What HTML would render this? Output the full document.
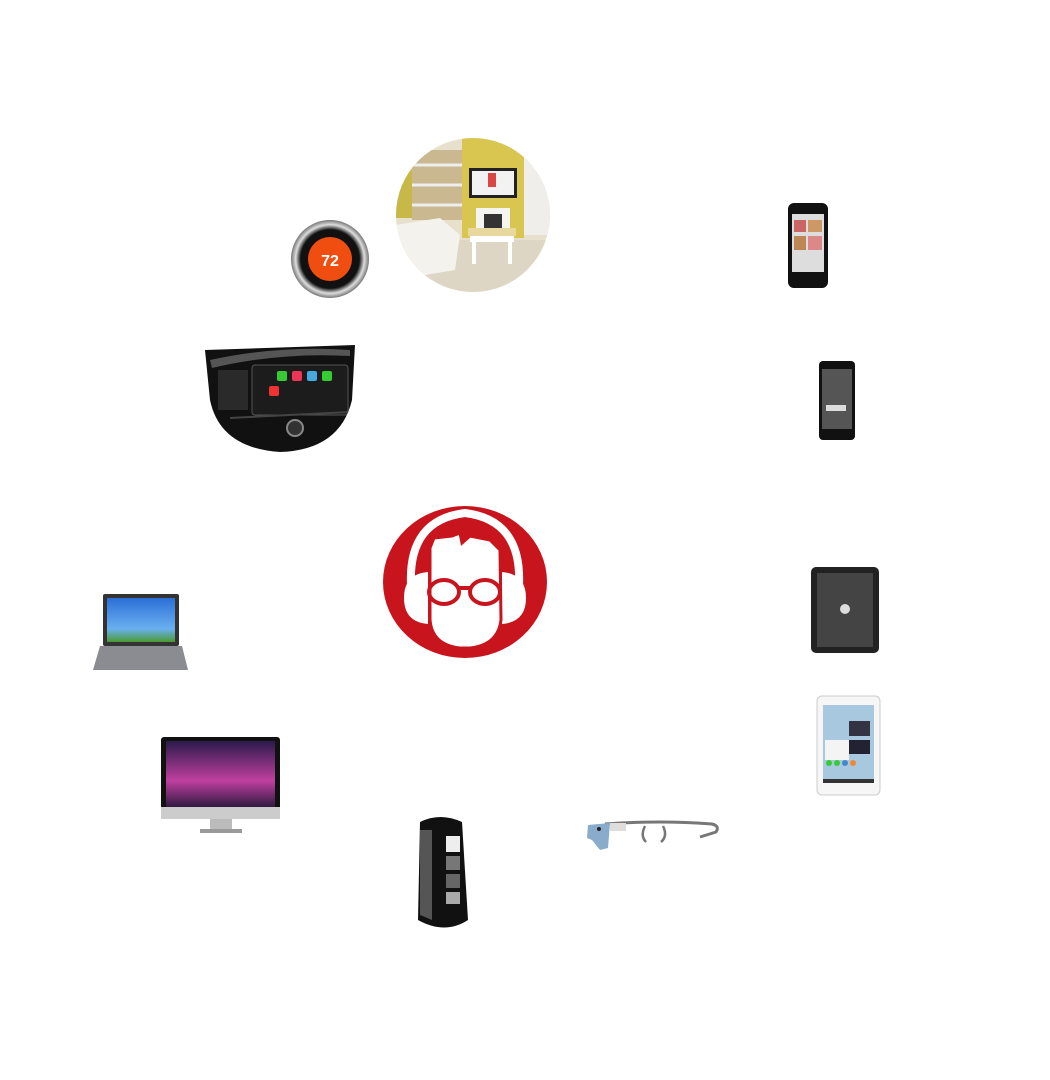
<!DOCTYPE html>
<html><head><meta charset="utf-8"><style>
html,body{margin:0;padding:0;background:#fff;}
svg{display:block;}
</style></head><body>
<svg width="1050" height="1080" viewBox="0 0 1050 1080" xmlns="http://www.w3.org/2000/svg">
<defs>
<clipPath id="room"><circle cx="473" cy="215" r="77"/></clipPath>
<clipPath id="car"><path d="M205 350 L355 345 L352 400 Q340 450 280 452 Q220 448 210 400 Z"/></clipPath>
<linearGradient id="mac" x1="0" y1="0" x2="0" y2="1"><stop offset="0" stop-color="#2a1a4a"/><stop offset="0.6" stop-color="#c040a0"/><stop offset="1" stop-color="#301a40"/></linearGradient>
<linearGradient id="xp" x1="0" y1="0" x2="0" y2="1"><stop offset="0" stop-color="#2b6fd6"/><stop offset="0.7" stop-color="#6ab0f0"/><stop offset="1" stop-color="#4a9a30"/></linearGradient>
<radialGradient id="ring"><stop offset="0.75" stop-color="#111"/><stop offset="0.88" stop-color="#ddd"/><stop offset="1" stop-color="#777"/></radialGradient>
</defs>

<g clip-path="url(#room)">
<rect x="395" y="138" width="156" height="156" fill="#e6e0cc"/>
<rect x="462" y="138" width="62" height="100" fill="#d8c650"/>
<rect x="395" y="138" width="20" height="80" fill="#c8b848"/>
<rect x="412" y="150" width="50" height="70" fill="#c9b890"/>
<line x1="412" y1="165" x2="462" y2="165" stroke="#eee" stroke-width="3"/>
<line x1="412" y1="185" x2="462" y2="185" stroke="#eee" stroke-width="3"/>
<line x1="412" y1="205" x2="462" y2="205" stroke="#eee" stroke-width="3"/>
<rect x="524" y="150" width="30" height="85" fill="#f0eeea"/>
<rect x="469" y="168" width="48" height="30" fill="#222"/>
<rect x="472" y="171" width="42" height="24" fill="#f2f2f2"/>
<rect x="488" y="173" width="8" height="14" fill="#d44"/>
<rect x="476" y="208" width="34" height="28" fill="#f4f4f0"/>
<rect x="484" y="214" width="18" height="16" fill="#333"/>
<rect x="395" y="240" width="156" height="54" fill="#ddd6c4"/>
<path d="M395 225 L440 218 L460 235 L455 270 L395 280 Z" fill="#f4f2ec"/>
<rect x="470" y="236" width="44" height="6" fill="#fff"/>
<rect x="472" y="242" width="4" height="22" fill="#fff"/><rect x="508" y="242" width="4" height="22" fill="#fff"/>
<rect x="468" y="228" width="48" height="8" fill="#e8d8a0"/>
</g>

<circle cx="330" cy="259" r="39" fill="url(#ring)"/>
<circle cx="330" cy="259" r="22" fill="#f04e10"/>
<text x="330" y="266" font-family="Liberation Sans, sans-serif" font-size="16" font-weight="bold" fill="#fff" text-anchor="middle">72</text>

<g clip-path="url(#car)">
<rect x="200" y="340" width="160" height="120" fill="#111"/>
<path d="M210 360 Q280 345 350 350 L350 356 Q280 352 212 368 Z" fill="#555"/>
<rect x="218" y="370" width="30" height="40" fill="#2a2a2a"/>
<rect x="252" y="365" width="96" height="50" rx="3" fill="#1c1c1c" stroke="#555"/>
<rect x="277" y="371" width="10" height="10" rx="2" fill="#3c3"/><rect x="292" y="371" width="10" height="10" rx="2" fill="#e35"/><rect x="307" y="371" width="10" height="10" rx="2" fill="#4ad"/><rect x="322" y="371" width="10" height="10" rx="2" fill="#3c3"/>
<rect x="269" y="386" width="10" height="10" rx="2" fill="#e33"/>
<line x1="230" y1="418" x2="350" y2="412" stroke="#444" stroke-width="2"/>
<circle cx="295" cy="428" r="8" fill="#333" stroke="#888" stroke-width="2"/>
</g>

<rect x="788" y="203" width="40" height="85" rx="6" fill="#111"/>
<rect x="792" y="214" width="32" height="58" fill="#ddd"/>
<rect x="794" y="220" width="12" height="12" fill="#c66"/><rect x="808" y="220" width="14" height="12" fill="#c96"/>
<rect x="794" y="236" width="12" height="14" fill="#b85"/><rect x="808" y="236" width="14" height="14" fill="#d88"/>

<rect x="819" y="361" width="36" height="79" rx="4" fill="#111"/>
<rect x="822" y="369" width="30" height="60" fill="#555"/>
<rect x="826" y="405" width="20" height="6" fill="#ddd"/>

<ellipse cx="465" cy="582" rx="82" ry="76" fill="#c8141c"/>
<path d="M411 585 Q408 520 465 513 Q522 520 519 585" fill="none" stroke="#fff" stroke-width="8"/>
<path d="M428 572 Q404 574 404 598 Q404 622 428 624 Z" fill="#fff"/>
<path d="M502 572 Q526 574 526 598 Q526 622 502 624 Z" fill="#fff"/>
<path d="M430 548 L434 538 L452 536 L460 533 L462 543 L470 536 L490 540 L500 550 L501 620 Q498 645 470 648 L460 648 Q432 645 430 620 Z" fill="#fff" stroke="#c8141c" stroke-width="3"/>
<ellipse cx="444" cy="592" rx="15" ry="12" fill="none" stroke="#c8141c" stroke-width="4"/>
<ellipse cx="485" cy="592" rx="15" ry="12" fill="none" stroke="#c8141c" stroke-width="4"/>
<line x1="459" y1="588" x2="470" y2="588" stroke="#c8141c" stroke-width="4"/>

<rect x="103" y="594" width="76" height="52" rx="2" fill="#333"/>
<rect x="107" y="598" width="68" height="44" fill="url(#xp)"/>
<path d="M100 646 L182 646 L188 670 L93 670 Z" fill="#8a8c92"/>

<rect x="161" y="737" width="119" height="80" rx="3" fill="#111"/>
<rect x="166" y="741" width="109" height="66" fill="url(#mac)"/>
<rect x="161" y="807" width="119" height="12" fill="#ccc"/>
<rect x="210" y="819" width="22" height="10" fill="#bbb"/>
<rect x="200" y="829" width="42" height="4" fill="#999"/>

<rect x="811" y="567" width="68" height="86" rx="5" fill="#222"/>
<rect x="817" y="573" width="56" height="74" fill="#444"/>
<circle cx="845" cy="609" r="5" fill="#ddd"/>

<rect x="817" y="696" width="63" height="99" rx="5" fill="#f6f6f6" stroke="#ccc"/>
<rect x="823" y="705" width="51" height="78" fill="#a8c8e0"/>
<rect x="849" y="721" width="21" height="15" fill="#334"/>
<rect x="825" y="740" width="24" height="20" fill="#f4f4f4"/>
<rect x="849" y="740" width="21" height="14" fill="#223"/>
<circle cx="829" cy="763" r="3" fill="#3c3"/><circle cx="837" cy="763" r="3" fill="#3c3"/><circle cx="845" cy="763" r="3" fill="#48c"/><circle cx="853" cy="763" r="3" fill="#e83"/>
<rect x="823" y="779" width="51" height="4" fill="#333"/>

<path d="M420 822 Q440 812 462 822 L468 920 Q445 935 418 920 Z" fill="#111"/>
<path d="M420 830 L432 830 L432 920 L420 915 Z" fill="#555"/>
<rect x="446" y="836" width="14" height="16" fill="#eee"/>
<rect x="446" y="856" width="14" height="14" fill="#777"/>
<rect x="446" y="874" width="14" height="14" fill="#666"/>
<rect x="446" y="892" width="14" height="12" fill="#aaa"/>

<path d="M605 824 Q660 820 712 824 Q720 826 716 832 L700 837" fill="none" stroke="#777" stroke-width="3"/>
<path d="M645 826 Q640 836 646 842" fill="none" stroke="#777" stroke-width="2.5"/>
<path d="M663 826 Q668 836 661 842" fill="none" stroke="#777" stroke-width="2.5"/>
<rect x="610" y="823" width="16" height="8" fill="#ddd"/>
<path d="M588 825 L610 823 L608 848 L600 850 L592 840 L587 838 Z" fill="#8aaccc"/>
<circle cx="599" cy="829" r="2" fill="#222"/>
</svg>
</body></html>
